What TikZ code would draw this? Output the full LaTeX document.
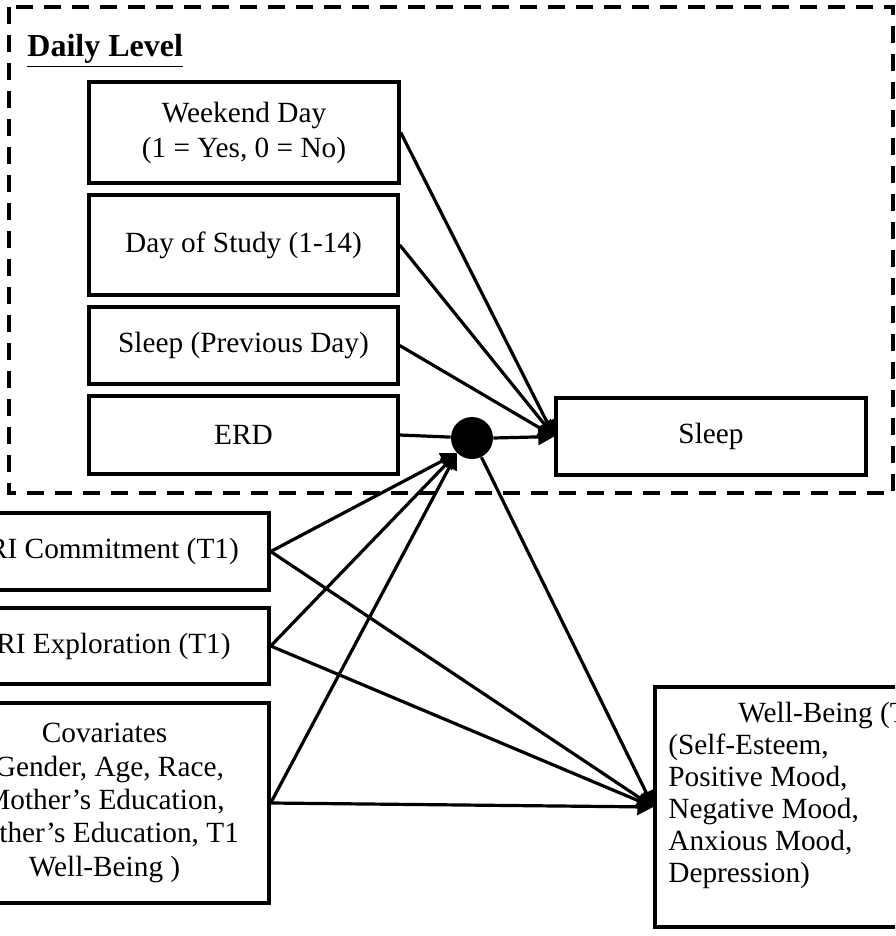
\documentclass[tikz,border=0pt]{standalone}
\usepackage{fontspec}
\setmainfont{Liberation Serif}
\usetikzlibrary{arrows.meta}
\begin{document}
\begin{tikzpicture}[x=0.5pt,y=-0.5pt,
  box/.style={draw,line width=1.7pt,rectangle,inner sep=0pt,align=center,font=\fontsize{14.65pt}{16.7pt}\selectfont},
  conn/.style={line width=1.6pt,-{Triangle[length=8pt,width=8pt]}},
  link/.style={line width=1.6pt},
  txt/.style={inner sep=0pt,font=\fontsize{14.65pt}{16pt}\selectfont}]
\useasboundingbox (0,0) rectangle (895,936);
\clip (0,0) rectangle (895,936);
\draw[line width=2.2pt,dash pattern=on 8.5pt off 5.5pt] (9,7) rectangle (893,493);
\node[anchor=base west,inner sep=0pt,font=\fontsize{16pt}{19pt}\selectfont\bfseries] (daily) at (27,57) {\underline{Daily Level}};
\node[box,minimum width=155pt,minimum height=50.5pt,font=\fontsize{14.65pt}{17.5pt}\selectfont] (weekend) at (244,132.5) {Weekend Day\\(1 = Yes, 0 = No)};
\node[box,minimum width=154.5pt,minimum height=50pt] (study) at (243.5,245) {Day of Study (1-14)};
\node[box,minimum width=154.5pt,minimum height=38.5pt] (prev) at (243.5,345.5) {Sleep (Previous Day)};
\node[box,minimum width=154.5pt,minimum height=39pt] (erd) at (243.5,435) {ERD};
\node[circle,fill,inner sep=0pt,minimum size=21pt] (mod) at (472,438) {};
\node[box,minimum width=155pt,minimum height=38.5pt] (sleep) at (711,436.5) {Sleep};
\node[box,minimum width=164.5pt,minimum height=38.5pt] (com) at (104.5,551.5) {\hphantom{E}RI Commitment (T1)};
\node[box,minimum width=164.5pt,minimum height=38pt] (exp) at (104.5,646) {\hphantom{E}RI Exploration (T1)};
\node[box,minimum width=164.5pt,minimum height=100pt] (cov) at (104.5,803) {Covariates\\\hphantom{(}Gender, Age, Race,\\Mother’s Education,\\\hphantom{Fa}ther’s Education, T1\\Well-Being )};
\node[box,minimum width=150pt,minimum height=120pt] (wb) at (805,807) {};
\node[txt,anchor=north west,align=left] (wbtext) at (668,702) {\hspace*{35pt}Well-Being (T\\(Self-Esteem,\\Positive Mood,\\Negative Mood,\\Anxious Mood,\\Depression)};
\draw[conn] (weekend.east) -- (sleep.west);
\draw[conn] (study.east) -- (sleep.west);
\draw[conn] (prev.east) -- (sleep.west);
\draw[link] (erd.east) -- (mod);
\draw[conn] (mod.east) -- (sleep.west);
\draw[conn] (com.east) -- (mod.south west);
\draw[conn] (exp.east) -- (mod.south west);
\draw[conn] (cov.east) -- (mod.south west);
\draw[conn] (com.east) -- (wb.west);
\draw[conn] (exp.east) -- (wb.west);
\draw[conn] (cov.east) -- (wb.west);
\draw[conn] (mod) -- (wb.west);
\end{tikzpicture}
\end{document}
